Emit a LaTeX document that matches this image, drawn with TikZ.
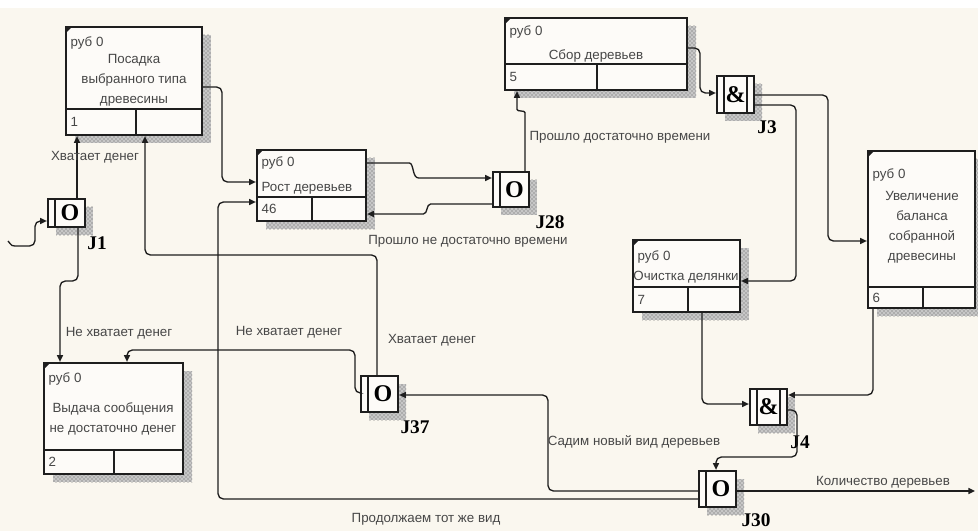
\documentclass[tikz,border=0pt]{standalone}
\usepackage{fontspec}
\setmainfont{Liberation Sans}
\newfontfamily\jfont{Liberation Serif}
\usetikzlibrary{arrows.meta,fit,patterns}

\definecolor{paper}{RGB}{250,247,239}
\definecolor{ink}{RGB}{30,30,30}

\begin{document}
\begin{tikzpicture}[x=0.75pt,y=-0.75pt,>={Triangle[length=5pt,width=4.5pt]},
 font=\fontsize{10}{15}\selectfont,
 uow/.style={draw=ink,line width=1.7pt,inner sep=0pt},
 shade/.style={pattern=crosshatch dots,pattern color=black!65},
 flow/.style={draw=ink,line width=1pt,rounded corners=4pt,->},
 lbl/.style={text=black!72,inner sep=1pt},
 jsym/.style={font=\jfont\bfseries\fontsize{18}{18}\selectfont,inner sep=0pt},
 jname/.style={font=\jfont\bfseries\fontsize{14.5}{15}\selectfont,inner sep=0pt}]
\fill[paper] (0,0) rectangle (978,531);
\fill[white] (0,0) rectangle (978,8);
\useasboundingbox (0,0) rectangle (978,531);

\foreach \n/\xl/\yt/\xr/\yb/\dy/\dx/\num in {b1/66/27/202/135/109/136/1,b46/257/150/366/221/197/312/46,b5/505/18/687/90/64/597/5,b7/633/240/740/312/287/688/7,b6/868/151/975/308/287/923/6,b2/44/363/183/474/450/114/2}
{
 \fill[black!22] (\xl+9,\yt+8) rectangle (\xr+9,\yb+8);
 \fill[shade] (\xl+9,\yt+8) rectangle (\xr+9,\yb+8);
 \fill[white!55!paper] (\xl,\yt) rectangle (\xr,\yb);
 \node[uow,fit={(\xl,\yt) (\xr,\yb)}] (\n) {};
 \draw[ink,line width=1.7pt] (\xl,\dy) -- (\xr,\dy) (\dx,\dy) -- (\dx,\yb);
 \fill[ink] (\xl,\yt) -- ++(6,0) -- ++(-6,6) -- cycle;
 \node[lbl,anchor=west] (\n-num) at (\xl+3,{(\dy+\yb)/2}) {\num};
}

\node[lbl,anchor=west] (b1-ref) at (69,43) {руб 0};
\node[lbl,align=center] (b1-txt) at (134,80) {Посадка\\выбранного типа\\древесины};
\node[lbl,anchor=west] (b46-ref) at (260,163) {руб 0};
\node[lbl,anchor=west] (b46-txt) at (260,188) {Рост деревьев};
\node[lbl,anchor=west] (b5-ref) at (508,32) {руб 0};
\node[lbl] (b5-txt) at (596,56) {Сбор деревьев};
\node[lbl,anchor=west] (b7-ref) at (636,257) {руб 0};
\node[lbl] (b7-txt) at (686,277) {Очистка делянки};
\node[lbl,anchor=west] (b6-ref) at (871,175) {руб 0};
\node[lbl,align=center] (b6-txt) at (922,227) {Увеличение\\баланса\\собранной\\древесины};
\node[lbl,anchor=west] (b2-ref) at (47,379) {руб 0};
\node[lbl,align=center] (b2-txt) at (113,419) {Выдача сообщения\\не достаточно денег};

\foreach \n/\xl/\yt/\xr/\yb/\s/\dbl/\jn/\lx/\ly in {j1/48/199/85/227/O/0/J1/97/243,j28/493/172/529/207/O/0/J28/550/222,j3/717/76/754/113/\&/1/J3/767/127,j4/750/389/787/425/\&/1/J4/800/442,j30/699/471/736/507/O/0/J30/756/520,j37/361/376/398/412/O/0/J37/415/427}
{
 \fill[black!22] (\xl+8,\yt+8) rectangle (\xr+8,\yb+8);
 \fill[shade] (\xl+8,\yt+8) rectangle (\xr+8,\yb+8);
 \node[uow,fill=white!55!paper,fit={(\xl,\yt) (\xr,\yb)}] (\n) {};
 \draw[ink,line width=1.3pt] (\xl+7,\yt) -- (\xl+7,\yb);
 \ifnum\dbl=1 \draw[ink,line width=1.3pt] (\xr-7,\yt) -- (\xr-7,\yb); \fi
 \node[jsym] (\n-sym) at ({(\xl+7+\xr-7*\dbl)/2},{(\yt+\yb)/2}) {\s};
 \node[jname] (\n-name) at (\lx,\ly) {\jn};
}

\coordinate (in) at (8,241);
\coordinate (out) at (975,491);

\draw[flow] (in) .. controls (12,246) .. (20,246) -- (35,246) -- (35,221) -- (j1.west |- 0,221);
\draw[flow] (77,0 |- j1.north) -- (77,0 |- b1.south);
\draw[flow] (78,0 |- j1.south) |- (60,281) -- (60,0 |- b2.north);
\draw[flow] (377,0 |- j37.north) |- (145,255) -- (145,0 |- b1.south);
\draw[flow] (j37.west |- 0,393) -- (355,393) |- (127,350) -- (127,0 |- b2.north);
\draw[flow] (j30.west |- 0,491) -| (548,395) -- (j37.east |- 0,395);
\draw[flow] (j30.west |- 0,499) -| (218,202) -- (b46.west |- 0,202);
\draw[flow] (b1.east |- 0,87) -| (222,182) -- (b46.west |- 0,182);
\draw[flow] (b46.east |- 0,163) -- (404,163) .. controls (414,163) and (412,178) .. (424,178) -- (j28.west |- 0,178);
\draw[flow] (j28.west |- 0,204) -- (436,204) .. controls (426,204) and (428,214) .. (418,214) -- (b46.east |- 0,214);
\draw[flow] (525,0 |- j28.north) -- (525,118) .. controls (525,110) and (517,112) .. (517,104) -- (517,0 |- b5.south);
\draw[flow] (b5.east |- 0,48) -| (700,93) -- (j3.west |- 0,93);
\draw[flow] (j3.east |- 0,95) -| (828,241) -- (b6.west |- 0,241);
\draw[flow] (j3.east |- 0,105) -| (796,281) -- (b7.east |- 0,281);
\draw[flow] (702,0 |- b7.south) |- (j4.west |- 0,404);
\draw[flow] (873,0 |- b6.south) |- (j4.east |- 0,395);
\draw[flow] (j4.east |- 0,410) -| (797,457) -| (716,0 |- j30.north);
\draw[flow] (j30.east |- 0,491) -- (out);

\node[lbl] (l1) at (95,157) {Хватает денег};
\node[lbl] (l2) at (119,333) {Не хватает денег};
\node[lbl] (l3) at (289,332) {Не хватает денег};
\node[lbl] (l4) at (432,340) {Хватает денег};
\node[lbl] (l5) at (468,241) {Прошло не достаточно времени};
\node[lbl] (l6) at (620,137) {Прошло достаточно времени};
\node[lbl] (l7) at (634,442) {Садим новый вид деревьев};
\node[lbl] (l8) at (426,519) {Продолжаем тот же вид};
\node[lbl] (l9) at (883,482) {Количество деревьев};
\end{tikzpicture}
\end{document}
